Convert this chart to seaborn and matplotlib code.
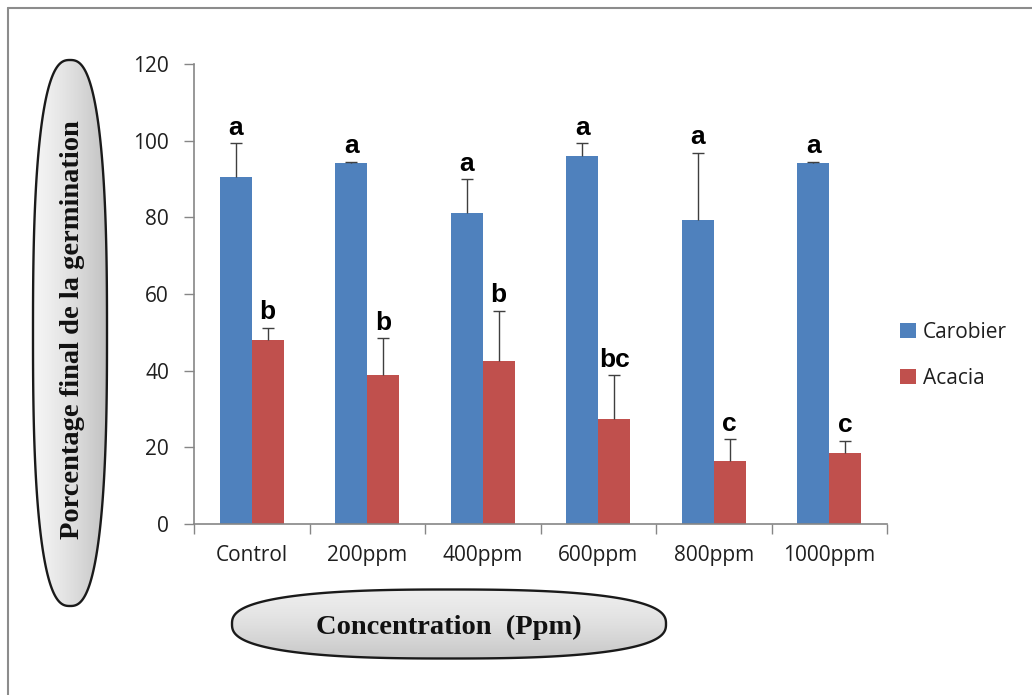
import numpy as np
import pandas as pd
import matplotlib
matplotlib.use('Agg')
import matplotlib.pyplot as plt
import seaborn as sns
from matplotlib.patches import PathPatch, Patch
from matplotlib.path import Path

# values
concentrations = ['Control', '200ppm', '400ppm', '600ppm', '800ppm', '1000ppm']
carobier = [90.4, 94.3, 81.2, 96.0, 79.3, 94.3]
carobier_err = [8.9, 0.2, 8.7, 3.3, 17.6, 0.2]
acacia = [48.0, 38.8, 42.5, 27.3, 16.4, 18.4]
acacia_err = [3.2, 9.7, 13.1, 11.5, 5.7, 3.3]
carobier_letters = ['a', 'a', 'a', 'a', 'a', 'a']
acacia_letters = ['b', 'b', 'b', 'bc', 'c', 'c']
species = ['Carobier', 'Acacia']
colors = ['#4F81BD', '#C0504D']

df = pd.DataFrame({
    'Concentration': concentrations * 2,
    'Germination': carobier + acacia,
    'Espece': ['Carobier'] * 6 + ['Acacia'] * 6,
})

sns.set_style('white')
plt.rcParams['font.family'] = ['Open Sans', 'DejaVu Sans']

W, H = 1032, 695
fig = plt.figure(figsize=(W / 100, H / 100), dpi=100)

# background layer in pixel coordinates (frame + rounded labels)
bg = fig.add_axes([0, 0, 1, 1], zorder=-1)
bg.set_xlim(0, W)
bg.set_ylim(H, 0)
bg.axis('off')
bg.plot([8, W], [8, 8], color='#8c8c8c', lw=1.5)
bg.plot([8, 8], [8, H], color='#8c8c8c', lw=1.5)


def gradient_shape(cx, cy, w, h, horizontal, n=2.6):
    # superellipse outline, a bit fuller than a plain ellipse
    t = np.linspace(0, 2 * np.pi, 400)
    px = cx + w / 2 * np.sign(np.cos(t)) * np.abs(np.cos(t)) ** (2 / n)
    py = cy + h / 2 * np.sign(np.sin(t)) * np.abs(np.sin(t)) ** (2 / n)
    shape = PathPatch(Path(np.column_stack([px, py]), closed=True), facecolor='none',
                      edgecolor='#1a1a1a', lw=1.7, zorder=3)
    bg.add_patch(shape)
    s = np.linspace(0, 1, 200)
    if horizontal:
        vals = 0.96 - 0.2 * s ** 1.3
        grad = np.tile(vals, (20, 1))
    else:
        vals = 0.93 - 0.15 * s ** 1.5
        grad = np.tile(vals[:, None], (1, 20))
    rgb = np.dstack([grad, grad, grad])
    im = bg.imshow(rgb, extent=(cx - w / 2, cx + w / 2, cy + h / 2, cy - h / 2),
                   aspect='auto', zorder=2)
    im.set_clip_path(shape)


gradient_shape(70, 333, 74, 546, horizontal=True)
gradient_shape(449, 624, 434, 69, horizontal=False)
bg.set_xlim(0, W)
bg.set_ylim(H, 0)

bg.text(73, 330, 'Porcentage final de la germination', rotation=90, ha='center', va='center',
        family='Liberation Serif', fontweight='bold', fontsize=20.5, color='#111111')
bg.text(449, 627, 'Concentration  (Ppm)', ha='center', va='center',
        family='Liberation Serif', fontweight='bold', fontsize=20.5, color='#111111')

# main chart
ax = fig.add_axes([194 / W, 1 - 524 / H, (887 - 194) / W, (524 - 64) / H])
sns.barplot(data=df, x='Concentration', y='Germination', hue='Espece', order=concentrations,
            hue_order=species, palette=colors, width=0.55, saturation=1, errorbar=None,
            legend=False, linewidth=0, edgecolor='none', ax=ax)

errs = [carobier_err, acacia_err]
letters = [carobier_letters, acacia_letters]
for container, err, labs in zip(ax.containers, errs, letters):
    xs = np.array([b.get_x() + b.get_width() / 2 for b in container])
    hs = np.array([b.get_height() for b in container])
    tops = hs + np.array(err)
    # upper error bars only
    ax.vlines(xs, hs, tops, color='#3f3f3f', lw=1, zorder=3)
    ax.plot(xs, tops, ls='none', marker='_', ms=8, mew=1, color='#3f3f3f', zorder=3)
    for x, top, lab in zip(xs, tops, labs):
        ax.text(x, top + 2.2, lab, ha='center', va='baseline', family='Liberation Sans',
                fontweight='bold', fontsize=19, color='black')

ax.set_ylim(0, 120)
ax.set_xlim(-0.5, 5.5)
ax.set_yticks(range(0, 121, 20))
ax.set_xlabel('')
ax.set_ylabel('')
sns.despine(ax=ax)
for s in ['left', 'bottom']:
    ax.spines[s].set_color('#868686')
    ax.spines[s].set_linewidth(1.2)
ax.tick_params(axis='y', direction='out', length=7, width=1, color='#868686', pad=11,
               labelsize=15, labelcolor='#1f1f1f', left=True)
ax.set_xticks(np.arange(-0.5, 6, 1), minor=True)
ax.tick_params(axis='x', which='minor', direction='out', length=7, width=1, color='#868686', bottom=True)
ax.tick_params(axis='x', which='major', length=0, pad=15, labelsize=15, labelcolor='#1f1f1f')

handles = [Patch(facecolor=c, edgecolor='none') for c in colors]
ax.legend(handles, species, loc='center left', bbox_to_anchor=(0.872, 0.489),
          bbox_transform=fig.transFigure, frameon=False, handlelength=0.75, handleheight=0.75,
          handletextpad=0.35, labelspacing=1.2, borderaxespad=0, borderpad=0,
          prop={'family': 'Open Sans', 'size': 15})
for t in ax.get_legend().get_texts():
    t.set_color('#1f1f1f')

fig.savefig('out.png', dpi=100, facecolor='white')
